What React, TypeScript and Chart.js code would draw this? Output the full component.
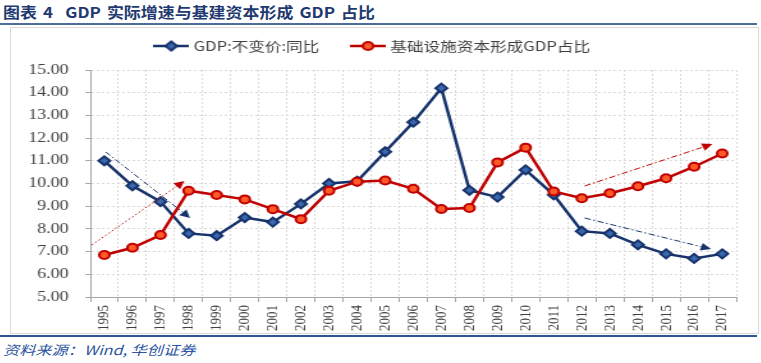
import React, { useEffect, useRef } from "react";
import { Chart, registerables } from "chart.js";

Chart.register(...registerables);

// ---------- data ----------
const years = [
  "1995", "1996", "1997", "1998", "1999", "2000", "2001", "2002", "2003", "2004", "2005", "2006",
  "2007", "2008", "2009", "2010", "2011", "2012", "2013", "2014", "2015", "2016", "2017",
];
const gdpGrowth = [
  11.0, 9.9, 9.2, 7.8, 7.7, 8.5, 8.3, 9.1, 10.0, 10.1, 11.4, 12.7,
  14.2, 9.7, 9.4, 10.6, 9.5, 7.9, 7.8, 7.3, 6.9, 6.7, 6.9,
];
const infraShare = [
  6.85, 7.17, 7.73, 9.68, 9.49, 9.3, 8.87, 8.43, 9.68, 10.08, 10.13, 9.77,
  8.88, 8.92, 10.93, 11.58, 9.65, 9.35, 9.57, 9.88, 10.23, 10.74, 11.32,
];
const seriesNames = ["GDP:不变价:同比", "基础设施资本形成GDP占比"];
const yMin = 5;
const yMax = 15;
const yStep = 1;

// trend arrows (category index, value)
const arrowFromX = [0.05, -0.45, 17.1, 17.1];
const arrowFromY = [11.39, 7.29, 8.48, 9.89];
const arrowToX = [3.05, 2.85, 21.6, 21.65];
const arrowToY = [8.48, 10.11, 7.11, 11.74];
const arrowSeries = [0, 1, 0, 1];

const titleText = "图表 4  GDP 实际增速与基建资本形成 GDP 占比";
const sourceText = "资料来源：Wind, 华创证券";

// ---------- style ----------
const STRETCH = 1.28;
const CSS_W = 747;
const CSS_H = 305;
const INT_W = Math.round(CSS_W / STRETCH);
const BLUE = "#17336B";
const BLUE_FILL = "#3A66AE";
const RED = "#C00000";
const RED_FILL = "#FF5B29";
const LEG_PAD = 27;
const LEG_FONT = 13;
const LEG_CY = 18;
const CHART_TOP = 42;

function legendSymbol(line: string, fill: string, shape: string) {
  const c = document.createElement("canvas");
  c.width = 28;
  c.height = 12;
  const g = c.getContext("2d")!;
  g.strokeStyle = line;
  g.lineWidth = 2.5;
  g.beginPath();
  g.moveTo(0, 6);
  g.lineTo(28, 6);
  g.stroke();
  g.fillStyle = fill;
  g.lineWidth = 2;
  g.beginPath();
  if (shape === "diamond") {
    g.moveTo(14, 1.5);
    g.lineTo(18.5, 6);
    g.lineTo(14, 10.5);
    g.lineTo(9.5, 6);
    g.closePath();
  } else {
    g.arc(14, 6, 4, 0, Math.PI * 2);
  }
  g.fill();
  g.stroke();
  return c;
}

const arrowPlugin = {
  id: "trendArrows",
  afterDatasetsDraw(chart: any) {
    const { ctx } = chart;
    const xs = chart.scales.x;
    const ys = chart.scales.y;
    for (let i = 0; i < arrowFromX.length; i++) {
      const x1 = xs.getPixelForValue(arrowFromX[i]);
      const y1 = ys.getPixelForValue(arrowFromY[i]);
      const x2 = xs.getPixelForValue(arrowToX[i]);
      const y2 = ys.getPixelForValue(arrowToY[i]);
      const color = arrowSeries[i] === 0 ? BLUE : RED;
      const a = Math.atan2(y2 - y1, x2 - x1);
      const head = 8;
      const half = 4;
      const bx = x2 - head * Math.cos(a);
      const by = y2 - head * Math.sin(a);
      ctx.save();
      ctx.strokeStyle = color;
      ctx.lineWidth = 1;
      ctx.setLineDash(i === 1 ? [1.5, 2] : [5, 2, 1.5, 2]);
      ctx.beginPath();
      ctx.moveTo(x1, y1);
      ctx.lineTo(bx, by);
      ctx.stroke();
      ctx.setLineDash([]);
      ctx.fillStyle = color;
      ctx.beginPath();
      ctx.moveTo(x2, y2);
      ctx.lineTo(bx + half * Math.sin(a), by - half * Math.cos(a));
      ctx.lineTo(bx - half * Math.sin(a), by + half * Math.cos(a));
      ctx.closePath();
      ctx.fill();
      ctx.restore();
    }
  },
};

const legendHeightPlugin = {
  id: "legendHeight",
  beforeUpdate(chart: any) {
    const lg = chart.legend;
    if (lg && !lg._patchedFit) {
      const orig = lg.fit.bind(lg);
      lg.fit = function () {
        orig();
        this.height = CHART_TOP - (LEG_CY - LEG_PAD - LEG_FONT / 2);
      };
      lg._patchedFit = true;
    }
  },
};

export default function App() {
  const ref = useRef<HTMLCanvasElement>(null);

  useEffect(() => {
    const canvas = ref.current!;
    const symbols = [legendSymbol(BLUE, BLUE_FILL, "diamond"), legendSymbol(RED, RED_FILL, "circle")];
    const chart = new Chart(canvas, {
      type: "line",
      data: {
        labels: years,
        datasets: [
          {
            label: seriesNames[0],
            data: gdpGrowth,
            order: 1,
            borderColor: BLUE,
            backgroundColor: BLUE_FILL,
            borderWidth: 2.5,
            pointStyle: "rectRot",
            pointRadius: 4.5,
            pointBorderWidth: 2,
            pointBackgroundColor: BLUE_FILL,
            pointBorderColor: BLUE,
          },
          {
            label: seriesNames[1],
            data: infraShare,
            order: 0,
            borderColor: RED,
            backgroundColor: RED_FILL,
            borderWidth: 2.5,
            pointStyle: "circle",
            pointRadius: 4,
            pointBorderWidth: 2,
            pointBackgroundColor: RED_FILL,
            pointBorderColor: RED,
          },
        ],
      },
      options: {
        animation: false,
        responsive: false,
        devicePixelRatio: 1,
        layout: {
          padding: { top: LEG_CY - LEG_PAD - LEG_FONT / 2, right: INT_W - Math.round(726 / STRETCH), left: 0, bottom: 0 },
        },
        plugins: {
          tooltip: { enabled: false },
          legend: {
            position: "top",
            labels: {
              usePointStyle: true,
              pointStyleWidth: 22,
              padding: LEG_PAD,
              color: "#404040",
              font: { family: '"Noto Sans CJK SC", sans-serif', size: LEG_FONT },
              generateLabels(c: any) {
                const items = Chart.defaults.plugins.legend.labels.generateLabels(c);
                items.sort((a: any, b: any) => a.datasetIndex - b.datasetIndex);
                items.forEach((it: any) => {
                  it.pointStyle = symbols[it.datasetIndex];
                });
                return items;
              },
            },
          },
        },
        scales: {
          x: {
            type: "category",
            offset: true,
            grid: {
              offset: true,
              color: "#D9D9D9",
              tickColor: "#A6A6A6",
              tickLength: 5,
              tickBorderDash: [],
            },
            border: { color: "#A6A6A6", width: 1, dash: [2, 2] },
            ticks: {
              autoSkip: false,
              minRotation: 90,
              maxRotation: 90,
              padding: 3,
              color: "#404040",
              font: { family: '"Liberation Serif", serif', size: 13 },
            },
            afterFit(s: any) {
              s.height = 36;
            },
          },
          y: {
            min: yMin,
            max: yMax,
            ticks: {
              stepSize: yStep,
              padding: 13,
              color: "#404040",
              font: { family: '"Liberation Serif", serif', size: 14 },
              callback: (v: any) => Number(v).toFixed(2),
            },
            grid: {
              color: "#D9D9D9",
              tickColor: "#A6A6A6",
              tickLength: 4,
              tickBorderDash: [],
            },
            border: { color: "#A6A6A6", width: 1, dash: [2, 2] },
            afterFit(s: any) {
              s.width = Math.round(79 / STRETCH);
            },
          },
        },
      },
      plugins: [legendHeightPlugin, arrowPlugin],
    } as any);
    return () => chart.destroy();
  }, []);

  return (
    <div
      style={{
        position: "absolute",
        left: 0,
        top: 0,
        width: 761,
        height: 363,
        background: "#ffffff",
        overflow: "hidden",
      }}
    >
      <div
        style={{
          position: "absolute",
          left: 3,
          top: 3,
          fontFamily: '"Noto Sans CJK SC", sans-serif',
          fontWeight: 700,
          fontSize: 15,
          lineHeight: "18px",
          color: "#1F3A70",
          whiteSpace: "pre",
          wordSpacing: 2,
          transform: "scaleX(1.13)",
          transformOrigin: "left top",
        }}
      >
        {titleText}
      </div>
      <div style={{ position: "absolute", left: 0, top: 23, width: 757, height: 2, background: "#4F6E9E" }} />
      <div
        style={{
          position: "absolute",
          left: 10,
          top: 27,
          width: 747,
          height: 305,
          border: "1px solid #D9D9D9",
        }}
      />
      <canvas
        ref={ref}
        width={INT_W}
        height={CSS_H}
        style={{ position: "absolute", left: 11, top: 28, width: CSS_W, height: CSS_H }}
      />
      <div style={{ position: "absolute", left: 0, top: 335, width: 757, height: 2, background: "#2F5597" }} />
      <div
        style={{
          position: "absolute",
          left: 3,
          top: 341,
          fontFamily: '"Noto Sans CJK SC", sans-serif',
          fontStyle: "italic",
          fontSize: 13,
          lineHeight: "18px",
          color: "#2B55A0",
          whiteSpace: "pre",
          transform: "scaleX(1.245)",
          transformOrigin: "left top",
        }}
      >
        {sourceText}
      </div>
    </div>
  );
}
